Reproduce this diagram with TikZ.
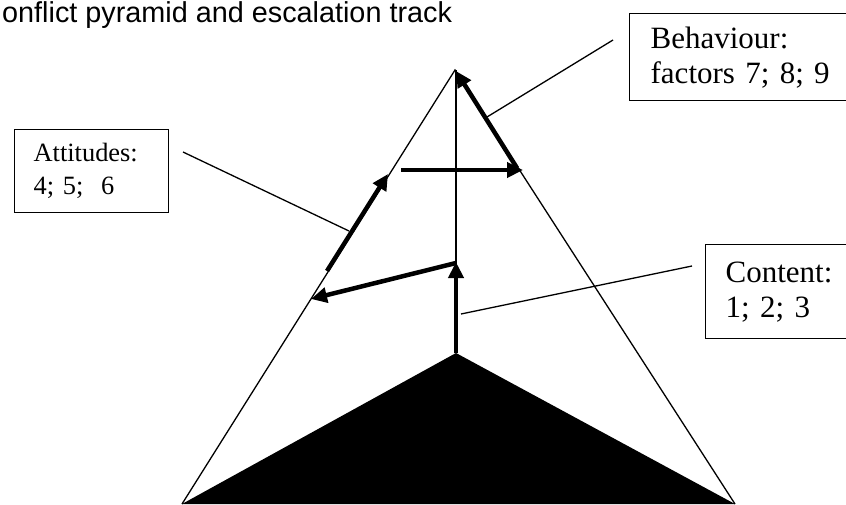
\documentclass[tikz,border=0pt]{standalone}
\usepackage{fontspec}
\setmainfont{Liberation Serif}
\newfontfamily\titlefont{Liberation Sans}
\usetikzlibrary{arrows.meta}
\frenchspacing

\begin{document}
\begin{tikzpicture}[x=1pt, y=-1pt,
    edge/.style={line width=1.3pt},
    track/.style={line width=4.5pt, -{Triangle[length=16pt, width=15pt]}},
    callout/.style={draw, line width=1.3pt, anchor=north west, align=left, inner ysep=0pt}]
    \clip (0,0) rectangle (846,504);

    % Title, as far as it shows at the left margin
    \node[anchor=base west, inner sep=0pt, font=\titlefont\fontsize{28.8}{32}\selectfont]
        (title) at (2,22.5) {onflict pyramid and escalation track};

    % The pyramid with its dark base
    \coordinate (apex) at (455,70);
    \coordinate (baseL) at (182,504);
    \coordinate (baseR) at (735,504);
    \coordinate (core) at (456,353);
    \coordinate (axis) at (456,70);
    \draw[edge] (baseL) -- (apex) -- (baseR);
    \fill (baseL) -- (core) -- (baseR) -- cycle;
    \draw[edge] (core) -- (axis);

    % Escalation track
    \coordinate (c1) at (456,262);
    \coordinate (c2) at (311,299);
    \coordinate (a1) at (327,271);
    \coordinate (a2) at (388,174);
    \coordinate (b1) at (401,170);
    \coordinate (b2) at (523,170);
    \coordinate (b3) at (517,168);
    \coordinate (b4) at (456,71);
    \draw[track] (core) -- (c1);
    \draw[track] ([yshift=-1pt]c1) -- (c2);
    \draw[track] (a1) -- (a2);
    \draw[track] (b1) -- (b2);
    \draw[track] (b3) -- (b4);

    % Boxes with their callouts
    \node[callout, text width=116pt, inner xsep=19pt, minimum height=83pt,
        font=\fontsize{26.4}{30}\selectfont] (att) at (14,129) {\vspace{3pt}Attitudes:\\4; 5;~~6};
    \node[callout, text width=200pt, inner xsep=21pt, minimum height=87pt,
        font=\fontsize{31}{35}\selectfont] (beh) at (629,13) {Behaviour:\\factors~7;~8;~9};
    \node[callout, text width=150pt, inner xsep=20pt, minimum height=94pt,
        font=\fontsize{31}{35}\selectfont] (con) at (705,244) {Content:\\1;~2;~3};

    \coordinate (att-tail) at (183,152);
    \coordinate (att-tip) at (349,231);
    \coordinate (beh-tail) at (613,40);
    \coordinate (beh-tip) at (487,117);
    \coordinate (con-tail) at (692,266);
    \coordinate (con-tip) at (461,314);
    \draw[edge] (att-tail) -- (att-tip);
    \draw[edge] (beh-tail) -- (beh-tip);
    \draw[edge] (con-tail) -- (con-tip);
\end{tikzpicture}
\end{document}
